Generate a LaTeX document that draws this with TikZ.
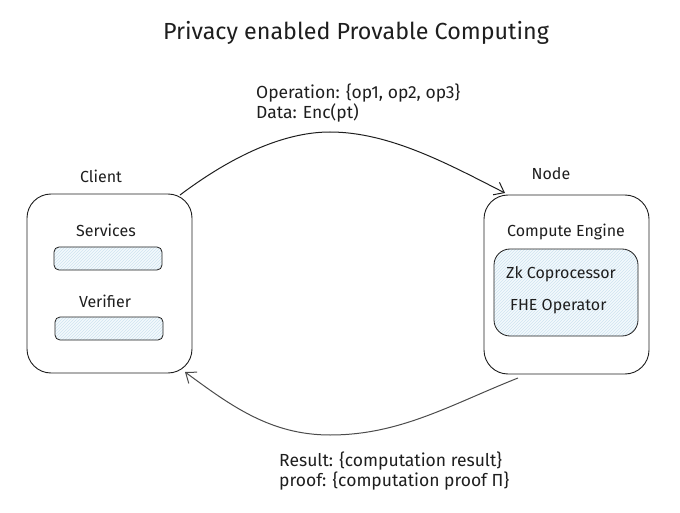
\documentclass[tikz,border=0pt]{standalone}
\usepackage{fontspec}
\setmainfont{Fira Sans}
\usetikzlibrary{arrows.meta,patterns,calc}
\definecolor{ink}{HTML}{1E1E1E}
\definecolor{hatchfill}{HTML}{F3F9FD}
\definecolor{hatchline}{HTML}{CFE4F0}
\begin{document}
\begin{tikzpicture}[x=1pt,y=-1pt,
  every node/.style={text=ink, font=\fontsize{16}{19}\selectfont},
  outerbox/.style={draw=ink, line width=0.9pt, rounded corners=24pt},
  hatchbox/.style={draw=ink, line width=0.8pt, preaction={fill=hatchfill}, pattern=north east lines, pattern color=hatchline},
  lbl/.style={inner sep=0pt},
  msg/.style={lbl, anchor=west, align=left, font=\fontsize{17.5}{20}\selectfont},
  flow/.style={draw=ink, line width=1pt, -{Straight Barb[length=9pt,width=14pt,line width=1pt]}}
]
\useasboundingbox (0,0) rectangle (680,513);
% title
\node[lbl, font=\fontsize{23.3}{27}\selectfont] (title) at (356,33) {Privacy enabled Provable Computing};
% client
\node[lbl] (clientlbl) at (101,176) {Client};
\draw[outerbox] (27,194) rectangle (192,373);
\node[lbl] (serviceslbl) at (106,230) {Services};
\draw[hatchbox, rounded corners=5pt] (54,247) rectangle (162,270);
\node[lbl] (verifierlbl) at (105,301) {Verifier};
\draw[hatchbox, rounded corners=5pt] (55,317) rectangle (163,340);
% node
\node[lbl] (nodelbl) at (551,174) {Node};
\draw[outerbox] (484,195) rectangle (649,374);
\node[lbl] (enginelbl) at (566,232) {Compute Engine};
\draw[hatchbox, rounded corners=16pt] (494,249) rectangle (638,336);
\node[lbl, anchor=west] (zk) at (506,274) {Zk Coprocessor};
\node[lbl, anchor=west] (fhe) at (510,307) {FHE Operator};
% arrows endpoints
\coordinate (clientTop) at (180,195);
\coordinate (nodeTop) at (505,193);
\coordinate (nodeBot) at (518,378);
\coordinate (clientBot) at (185,372);
\draw[flow] (clientTop) .. controls (240,150) and (290,132) .. (330,132)
   .. controls (390,132) and (450,165) .. (nodeTop);
\draw[flow, draw=ink!80] (nodeBot) .. controls (450,405) and (400,435) .. (330,435)
   .. controls (270,435) and (230,405) .. (clientBot);
% labels
\node[msg] (req) at (256,103) {Operation: \{op1, op2, op3\}\\Data: Enc(pt)};
\node[msg] (res) at (279,471) {Result: \{computation result\}\\proof: \{computation proof Π\}};
\end{tikzpicture}
\end{document}
